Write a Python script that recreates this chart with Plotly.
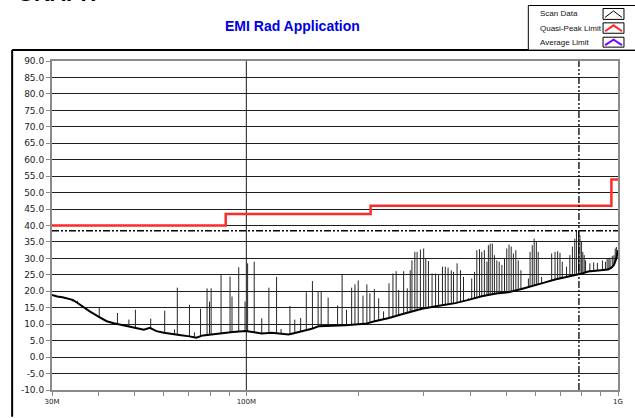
import numpy as np
import plotly.graph_objects as go

# ---------------- data ----------------
y_tick_vals = [-10, -5, 0, 5, 10, 15, 20, 25, 30, 35, 40, 45, 50, 55, 60, 65, 70, 75, 80, 85, 90]
y_tick_text = [f"{v:.1f}" for v in y_tick_vals]
x_tick_vals_mhz = [30, 40, 50, 60, 70, 80, 90, 100, 200, 300, 400, 500, 600, 700, 800, 900, 1000]
x_tick_text = ["30M", "", "", "", "", "", "", "100M", "", "", "", "", "", "", "", "", "1G"]

# Scan data noise floor (MHz, dBuV/m)
floor_freq_mhz = [30, 31, 32, 33, 34.1, 35, 36, 37.9, 40, 42.1, 44, 46.6, 49, 51.7, 53, 55,
                  57.3, 60, 63.4, 66, 70.3, 73.3, 76.4, 80, 86.4, 92, 99.5, 105, 110, 117,
                  124, 130, 135, 141, 150, 157, 170, 185, 200, 209, 220, 242, 265, 297, 330,
                  365, 396, 430, 470, 507, 550, 590, 623, 677, 720, 765, 800, 831, 870, 900,
                  940, 960, 975, 990, 1000]
floor_level_db = [18.9, 18.4, 18.2, 17.8, 17.4, 16.6, 15.6, 13.9, 12.3, 10.9, 10.3, 9.7, 9.1,
                  8.6, 8.3, 8.9, 7.9, 7.4, 6.9, 6.7, 6.3, 5.9, 6.6, 6.9, 7.4, 7.6, 7.9, 7.6,
                  7.2, 7.4, 7.0, 6.9, 7.3, 7.8, 8.6, 9.4, 9.5, 9.7, 10.0, 10.1, 10.8, 11.9,
                  13.2, 14.7, 15.6, 16.4, 17.4, 18.5, 19.3, 19.7, 20.7, 21.6, 22.4, 23.6,
                  24.2, 24.8, 25.4, 26.0, 26.3, 26.4, 26.6, 27.2, 28.0, 30.0, 32.5]

# Scan data emission spikes (MHz, dBuV/m)
spike_freq_mhz = [34.0, 35.1, 40.2, 45.0, 48.3, 50.3, 55.3, 60.3, 64.1, 65.2, 70.3, 72.5, 75.3,
                  78.4, 79.6, 80.4, 85.5, 90.4, 91.5, 95.4, 99.2, 100.8, 105, 110, 115, 120.6,
                  124, 131, 135, 140, 145, 150.6, 156, 159, 166, 176, 181, 186, 192, 196, 200,
                  206, 211, 215, 221, 227, 234, 242, 248, 253, 257, 265, 271, 276, 279, 284,
                  288, 294, 300, 304, 309, 316, 323, 329, 337, 343, 349, 356, 361, 369, 377,
                  384, 396, 404, 411, 417, 424, 430, 437, 444, 448, 453, 459, 465, 472, 479,
                  487, 495, 502, 509, 516, 523, 531, 539, 548, 574, 580, 588, 595, 603, 610,
                  623, 663, 677, 688, 698, 708, 727, 742, 754, 765, 773, 783, 790, 797, 804,
                  811, 818, 840, 860, 880, 908, 925, 935, 945, 952, 965, 975, 983, 990]
spike_level_db = [16.9, 17.1, 14.9, 13.4, 11.4, 14.4, 11.7, 14.1, 8.4, 21.1, 15.9, 7.5, 14.7,
                  20.9, 16.9, 20.9, 24.9, 24.5, 18.4, 27.3, 16.9, 28.5, 29.0, 11.8, 21.1, 24.4,
                  8.5, 15.5, 11.4, 11.9, 19.7, 23.1, 20.1, 20.1, 18.1, 15.7, 25.1, 14.4, 21.1,
                  22.1, 23.3, 18.7, 22.1, 19.4, 20.7, 17.9, 13.9, 22.4, 25.4, 26.1, 20.4, 26.1,
                  20.9, 26.4, 29.4, 32.0, 32.0, 32.7, 33.0, 30.0, 29.2, 25.4, 25.4, 24.9, 27.5,
                  27.5, 27.2, 26.4, 25.9, 28.5, 26.4, 24.4, 17.9, 23.9, 25.9, 32.5, 32.8, 32.0,
                  32.5, 29.0, 34.0, 34.5, 34.5, 31.0, 29.4, 29.0, 28.0, 30.0, 33.0, 34.2, 33.6,
                  31.5, 32.5, 29.4, 26.4, 23.9, 32.0, 34.0, 36.0, 35.0, 32.0, 24.4, 31.5, 32.0,
                  32.2, 31.7, 29.0, 27.5, 31.0, 33.6, 36.0, 38.4, 38.3, 37.0, 35.0, 32.0, 31.0,
                  29.4, 28.5, 28.8, 28.6, 29.4, 29.0, 30.0, 29.8, 30.2, 30.7, 31.0, 33.0, 33.5]

# Quasi-peak limit (FCC class B, 3 m)
qp_limit_freq_mhz = [30, 88, 216, 960, 1000]
qp_limit_db = [40, 43.5, 46, 54, 54]

# Peak marker
marker_freq_mhz = 785
marker_level_db = 38.4

# ---------------- figure ----------------
L, R, T, B = 52, 15, 61, 25
W, H = 635, 418
PW, PH = W - L - R, H - T - B


def px(xp):
    return (xp - L) / PW


def py(yp):
    return (H - B - yp) / PH


fig = go.Figure()

# 100M vertical grid line
fig.add_trace(go.Scatter(x=[100, 100], y=[-10, 90], mode="lines",
                         line=dict(color="#1a1a1a", width=1), hoverinfo="skip"))

# spikes
base = np.interp(np.log10(spike_freq_mhz), np.log10(floor_freq_mhz), floor_level_db)
sx, sy = [], []
for f, b, p in zip(spike_freq_mhz, base, spike_level_db):
    sx += [f, f, None]
    sy += [b, p, None]
fig.add_trace(go.Scatter(x=sx, y=sy, mode="lines", line=dict(color="#262626", width=1),
                         name="Scan Data"))

# floor
fig.add_trace(go.Scatter(x=floor_freq_mhz, y=floor_level_db, mode="lines",
                         line=dict(color="black", width=2), name="Scan Data"))

# QP limit
fig.add_trace(go.Scatter(x=qp_limit_freq_mhz, y=qp_limit_db, mode="lines",
                         line=dict(color="#FF2A2A", width=2.5, shape="hv"),
                         name="Quasi-Peak Limit"))

# marker lines
dash = "7px,2px,2px,2px,2px,2px"
fig.add_trace(go.Scatter(x=[30, 1000], y=[marker_level_db, marker_level_db], mode="lines",
                         line=dict(color="black", width=1.3, dash=dash), hoverinfo="skip"))
fig.add_trace(go.Scatter(x=[marker_freq_mhz, marker_freq_mhz], y=[-10, 90], mode="lines",
                         line=dict(color="black", width=1.3, dash=dash), hoverinfo="skip"))

tick_font_y = dict(family="DejaVu Sans", size=9, color="#222")
tick_font_x = dict(family="DejaVu Sans", size=7, color="#222")

fig.update_layout(
    width=W, height=H,
    margin=dict(l=L, r=R, t=T, b=B),
    paper_bgcolor="white", plot_bgcolor="white",
    showlegend=False,
    xaxis=dict(type="log", range=[np.log10(30), 3], tickmode="array",
               tickvals=x_tick_vals_mhz, ticktext=x_tick_text, ticks="outside",
               ticklen=4, tickcolor="#888", tickwidth=1, showgrid=False,
               showline=True, linecolor="#8a8a8a", linewidth=2, mirror=True,
               tickfont=tick_font_x, zeroline=False, fixedrange=True),
    yaxis=dict(range=[-10, 90], tickmode="array", tickvals=y_tick_vals,
               ticktext=y_tick_text, ticks="outside", ticklen=4, tickcolor="#888",
               showgrid=True, gridcolor="#1e1e1e", gridwidth=1, zeroline=False,
               showline=True, linecolor="#8a8a8a", linewidth=2, mirror=True,
               tickfont=tick_font_y, fixedrange=True),
)

shapes = []
# outer frame (left + top)
shapes.append(dict(type="line", xref="paper", yref="paper", x0=px(12), x1=px(12),
                   y0=py(50), y1=py(420), line=dict(color="black", width=2)))
shapes.append(dict(type="line", xref="paper", yref="paper", x0=px(12), x1=px(640),
                   y0=py(50), y1=py(50), line=dict(color="black", width=2)))
# legend box
shapes.append(dict(type="rect", xref="paper", yref="paper", x0=px(530), x1=px(640),
                   y0=py(50), y1=py(5), line=dict(color="black", width=1),
                   fillcolor="white"))
legend_rows = [("Scan Data", "black", 1, 8, 19, 13.5),
               ("Quasi-Peak Limit", "#FF2A2A", 2, 22.5, 33, 28),
               ("Average Limit", "#8000FF", 2, 37, 47, 42)]
annotations = []
for label, col, lw, top, bot, mid in legend_rows:
    shapes.append(dict(type="rect", xref="paper", yref="paper", x0=px(605), x1=px(626),
                       y0=py(bot), y1=py(top), line=dict(color="black", width=1)))
    path = f"M {px(607)},{py(bot - 2)} L {px(615.5)},{py(top + 2.5)} L {px(624)},{py(bot - 2)}"
    shapes.append(dict(type="path", xref="paper", yref="paper", path=path,
                       line=dict(color=col, width=lw)))
    annotations.append(dict(text=label, xref="paper", yref="paper", x=px(540), y=py(mid),
                            xanchor="left", yanchor="middle", showarrow=False,
                            font=dict(family="Liberation Sans", size=8, color="#111")))

annotations.append(dict(text="<b>EMI Rad Application</b>", xref="paper", yref="paper",
                        x=px(293.5), y=py(26), xanchor="center", yanchor="middle",
                        showarrow=False,
                        font=dict(family="Liberation Sans", size=14, color="#0000E6")))
annotations.append(dict(text="<b>GRAPH</b>", xref="paper", yref="paper",
                        x=px(15), y=py(7.5), xanchor="left", yanchor="bottom",
                        showarrow=False,
                        font=dict(family="Liberation Sans", size=22, color="black")))

fig.update_layout(shapes=shapes, annotations=annotations)

fig.write_html("out.html")
